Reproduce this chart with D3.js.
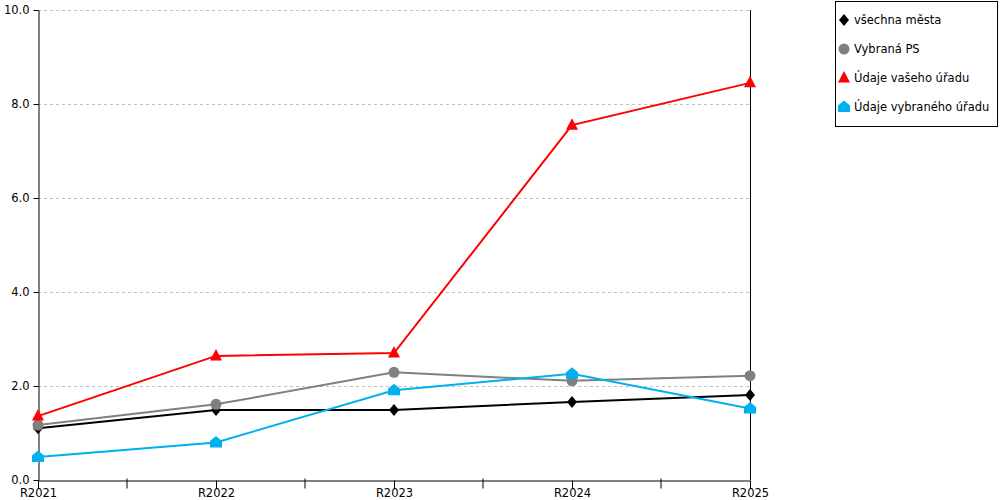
<!DOCTYPE html>
<html>
<head>
<meta charset="utf-8">
<script src="https://cdn.jsdelivr.net/npm/d3@7"></script>
<style>
  body { margin: 0; background: #fff; }
  text { font-family: "DejaVu Sans", Verdana, sans-serif; }
</style>
</head>
<body>
<div class="canvas"></div>
<script>
// data
const years = ["R2021", "R2022", "R2023", "R2024", "R2025"];
const vsechnaMesta = [1.10, 1.49, 1.49, 1.66, 1.81];
const vybranaPS = [1.17, 1.61, 2.29, 2.11, 2.22];
const udajeVasehoUradu = [1.36, 2.64, 2.70, 7.55, 8.45];
const udajeVybranehoUradu = [0.49, 0.80, 1.91, 2.26, 1.52];
const yTicks = [0, 2, 4, 6, 8, 10];

const seriesNames = ["všechna města", "Vybraná PS", "Údaje vašeho úřadu", "Údaje vybraného úřadu"];
const seriesColors = ["#000000", "#808080", "#ff0000", "#00b0f0"];
const seriesShapes = ["diamond", "circle", "triangle", "house"];
const seriesValues = [vsechnaMesta, vybranaPS, udajeVasehoUradu, udajeVybranehoUradu];

const series = seriesNames.map((name, i) => ({
  name: name, color: seriesColors[i], shape: seriesShapes[i], values: seriesValues[i]
}));

const margin = {top: 10, right: 250, bottom: 20, left: 38},
    width = 1000 - margin.left - margin.right,
    height = 500 - margin.top - margin.bottom;

const svg = d3.select(".canvas")
  .append("svg")
    .attr("width", 1000)
    .attr("height", 500);

const g = svg.append("g")
    .attr("transform", `translate(${margin.left},${margin.top})`);

const x = d3.scalePoint()
    .domain(years)
    .range([0, width]);

const y = d3.scaleLinear()
    .domain([0, 10])
    .range([height, 0]);

// marker paths
function markerPath(shape) {
  switch (shape) {
    case "diamond": return "M0,-6L5,0L0,6L-5,0Z";
    case "circle": return "M-5.5,0A5.5,5.5 0 1,0 5.5,0A5.5,5.5 0 1,0 -5.5,0Z";
    case "triangle": return "M0,-7L6,4.5L-6,4.5Z";
    case "house": return "M0,-6.5L6,-1.5L6,5L-6,5L-6,-1.5Z";
  }
}

// grid lines
g.append("g")
  .selectAll("line")
  .data(yTicks.filter(d => d > 0))
  .join("line")
    .attr("x1", 0)
    .attr("x2", width)
    .attr("y1", d => y(d) + 0.5)
    .attr("y2", d => y(d) + 0.5)
    .attr("stroke", "#c0c0c0")
    .attr("stroke-dasharray", "3,3");

// y axis
const yAxis = g.append("g")
    .attr("transform", "translate(0.5,0)")
    .call(d3.axisLeft(y).tickValues(yTicks).tickFormat(d3.format(".1f")).tickSize(5).tickSizeOuter(0));
yAxis.select(".domain").attr("stroke", "#000");
yAxis.selectAll("text")
    .attr("font-size", "11.5px")
    .attr("font-family", "DejaVu Sans, Verdana, sans-serif")
    .attr("fill", "#000")
    .attr("dx", "-1");

// right border
g.append("line")
    .attr("x1", width + 0.5)
    .attr("x2", width + 0.5)
    .attr("y1", 0)
    .attr("y2", height)
    .attr("stroke", "#000");

// x axis with minor ticks between categories
const xAxis = g.append("g")
    .attr("transform", `translate(0,${height + 0.5})`)
    .call(d3.axisBottom(x).tickSize(8).tickSizeOuter(0).tickPadding(0));
xAxis.select(".domain").attr("stroke", "#000");
xAxis.selectAll("text")
    .attr("font-size", "11.5px")
    .attr("font-family", "DejaVu Sans, Verdana, sans-serif")
    .attr("fill", "#000");

const step = x.step();
xAxis.append("g")
  .selectAll("line")
  .data(years.slice(0, -1))
  .join("line")
    .attr("x1", d => x(d) + step / 2)
    .attr("x2", d => x(d) + step / 2)
    .attr("y1", -2)
    .attr("y2", 8)
    .attr("stroke", "#000");

// lines
const line = d3.line()
    .x((d, i) => x(years[i]))
    .y(d => y(d));

g.selectAll(".series-line")
  .data(series)
  .join("path")
    .attr("class", "series-line")
    .attr("d", d => line(d.values))
    .attr("fill", "none")
    .attr("stroke", d => d.color)
    .attr("stroke-width", 2);

// markers
series.forEach(s => {
  g.append("g")
    .selectAll("path")
    .data(s.values)
    .join("path")
      .attr("d", markerPath(s.shape))
      .attr("transform", (d, i) => `translate(${x(years[i])},${y(d)})`)
      .attr("fill", s.color);
});

// legend
const legend = svg.append("g")
    .attr("transform", "translate(835,1)");

legend.append("rect")
    .attr("x", 0.5)
    .attr("y", 0.5)
    .attr("width", 162)
    .attr("height", 125)
    .attr("fill", "#fff")
    .attr("stroke", "#000");

const items = legend.selectAll(".item")
  .data(series)
  .join("g")
    .attr("class", "item")
    .attr("transform", (d, i) => `translate(9,${19 + i * 29})`);

items.append("path")
    .attr("d", d => markerPath(d.shape))
    .attr("fill", d => d.color);

items.append("text")
    .attr("x", 10)
    .attr("dy", "0.35em")
    .attr("font-size", "11.5px")
    .attr("fill", "#000")
    .text(d => d.name);
</script>
</body>
</html>
